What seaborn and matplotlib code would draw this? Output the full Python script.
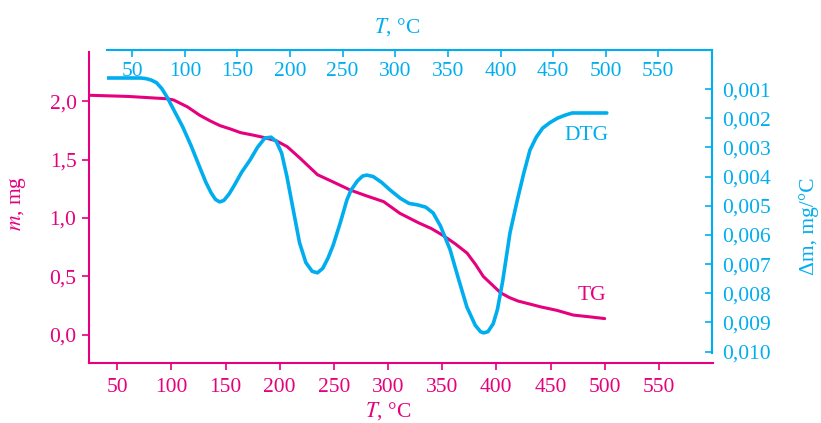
import matplotlib
matplotlib.use("Agg")
import matplotlib.pyplot as plt
import seaborn as sns

# TG curve, mass (mg) vs temperature on the bottom axis
tg_temp = [24, 60, 96, 102, 115, 126, 136, 145, 155, 164, 175, 185, 197, 207, 213,
           219, 227, 235, 249, 265, 280, 296, 311, 328, 340, 351, 362, 373, 381,
           388, 396, 404, 412, 420, 441, 456, 471, 486, 500]
tg_mass = [2.05, 2.04, 2.02, 2.01, 1.95, 1.88, 1.83, 1.79, 1.76, 1.73, 1.71, 1.69,
           1.66, 1.61, 1.56, 1.51, 1.44, 1.37, 1.31, 1.24, 1.19, 1.14, 1.04, 0.96,
           0.91, 0.85, 0.78, 0.70, 0.60, 0.50, 0.43, 0.36, 0.32, 0.29, 0.24, 0.21,
           0.17, 0.155, 0.14]

# DTG curve, in units of 0.001 mg/°C, vs temperature on the top axis
dtg_temp = [26, 58, 63, 68, 73, 78, 83, 90, 98, 106, 114, 120, 125, 129, 133, 137,
            142, 147, 154, 162, 169, 176, 182, 187, 192, 197, 202, 209, 215, 221,
            226, 231, 236, 241, 248, 254, 258, 264, 269, 273, 279, 287, 295, 305,
            313, 321, 329, 336, 343, 352, 360, 368, 376, 381, 384, 388, 393, 397,
            402, 409, 416, 422, 428, 434, 440, 447, 454, 461, 468, 485, 501]
dtg_val = [0.62, 0.62, 0.64, 0.69, 0.78, 0.98, 1.27, 1.75, 2.30, 2.95, 3.67, 4.20,
           4.56, 4.78, 4.87, 4.82, 4.60, 4.30, 3.85, 3.43, 3.00, 2.68, 2.65, 2.80,
           3.20, 4.00, 4.95, 6.27, 6.95, 7.25, 7.30, 7.15, 6.80, 6.35, 5.55, 4.80,
           4.46, 4.15, 3.98, 3.95, 4.00, 4.20, 4.46, 4.75, 4.92, 4.97, 5.05, 5.25,
           5.70, 6.50, 7.50, 8.47, 9.10, 9.32, 9.36, 9.32, 9.05, 8.57, 7.60, 5.93,
           4.80, 3.90, 3.09, 2.65, 2.34, 2.15, 2.00, 1.90, 1.82, 1.82, 1.82]

bottom_ticks = [50, 100, 150, 200, 250, 300, 350, 400, 450, 500, 550]
left_ticks = [0.0, 0.5, 1.0, 1.5, 2.0]
right_ticks = [1, 2, 3, 4, 5, 6, 7, 8, 9, 10]

MAGENTA = "#e6007e"
CYAN = "#00aeef"

sns.set_style("white")
plt.rcParams["font.family"] = ["Liberation Serif", "DejaVu Serif"]
plt.rcParams["mathtext.fontset"] = "stix"
plt.rcParams["font.size"] = 15.5

W, H = 821, 423
fig = plt.figure(figsize=(W / 100, H / 100), dpi=100)

# bottom / left axes (TG)
ax1 = fig.add_axes([89 / W, (H - 363) / H, (713 - 89) / W, (363 - 52) / H])
ax1.set_facecolor("none")
sns.lineplot(x=tg_temp, y=tg_mass, ax=ax1, color=MAGENTA, lw=2.2, sort=False)
ax1.set_xlim(24, 600)
ax1.set_ylim(-0.24, 2.42)
ax1.set_xticks(bottom_ticks)
ax1.set_yticks(left_ticks)
ax1.set_yticklabels([f"{v:.1f}".replace(".", ",") for v in left_ticks])
for s in ["top", "right"]:
    ax1.spines[s].set_visible(False)
for s in ["left", "bottom"]:
    ax1.spines[s].set_color(MAGENTA)
    ax1.spines[s].set_linewidth(1.5)
ax1.tick_params(axis="both", colors=MAGENTA, direction="out", length=5, width=1.2,
                left=True, bottom=True)
ax1.tick_params(axis="x", pad=6)
ax1.tick_params(axis="y", pad=4)
ax1.set_xlabel("$T$, °C", color=MAGENTA)
ax1.xaxis.set_label_coords(0.48, -0.118)
ax1.set_ylabel("$m$, mg", color=MAGENTA)
ax1.yaxis.set_label_coords(-0.097, 0.514)
ax1.text(488, 0.34, "TG", color=MAGENTA, ha="center", va="center")

# top / right axes (DTG)
ax2 = fig.add_axes([107 / W, (H - 353) / H, (712 - 107) / W, (353 - 50) / H])
ax2.set_facecolor("none")
sns.lineplot(x=dtg_temp, y=dtg_val, ax=ax2, color=CYAN, lw=2.6, sort=False)
ax2.set_xlim(26, 601)
ax2.set_ylim(10.05, -0.34)
ax2.set_xticks(bottom_ticks)
ax2.set_yticks(right_ticks)
ax2.set_yticklabels([f"0,{v:03d}" for v in right_ticks])
for s in ["bottom", "left"]:
    ax2.spines[s].set_visible(False)
for s in ["top", "right"]:
    ax2.spines[s].set_color(CYAN)
    ax2.spines[s].set_linewidth(1.5)
ax2.xaxis.tick_top()
ax2.yaxis.tick_right()
ax2.tick_params(axis="both", colors=CYAN, direction="in", length=5, width=1.2)
ax2.tick_params(axis="x", top=True, bottom=False, labeltop=True, labelbottom=False, pad=-22)
ax2.tick_params(axis="y", right=True, left=False, labelright=True, labelleft=False, pad=7)
ax2.xaxis.set_label_position("top")
ax2.set_xlabel("$T$, °C", color=CYAN)
ax2.xaxis.set_label_coords(0.48, 1.056)
ax2.yaxis.set_label_position("right")
ax2.set_ylabel("Δm, mg/°C", color=CYAN)
ax2.yaxis.set_label_coords(1.144, 0.42)
ax2.text(482, 2.58, "DTG", color=CYAN, ha="center", va="center")

fig.savefig("out.png", dpi=100)
